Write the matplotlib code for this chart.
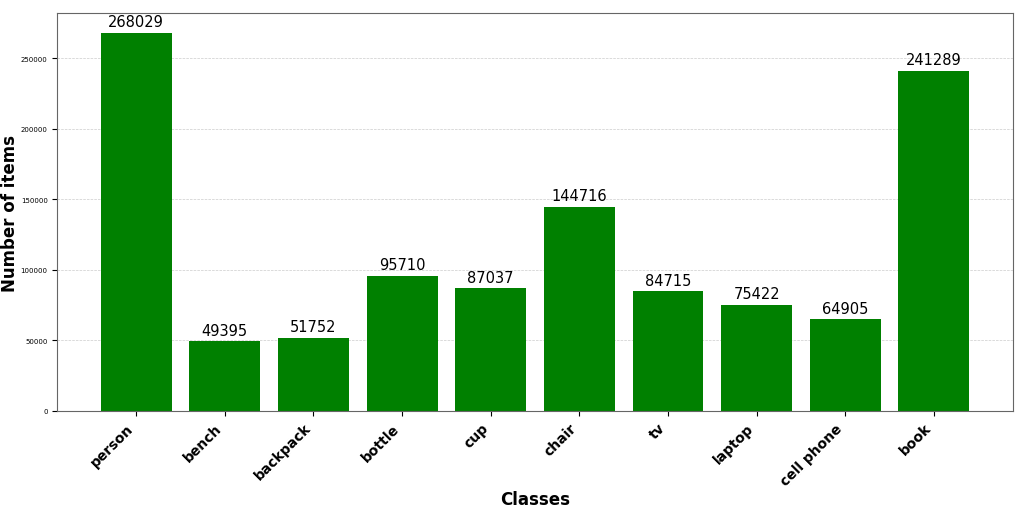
import matplotlib
matplotlib.use("Agg")
import matplotlib.pyplot as plt

classes = ["person", "bench", "backpack", "bottle", "cup", "chair", "tv", "laptop", "cell phone", "book"]
counts = [268029, 49395, 51752, 95710, 87037, 144716, 84715, 75422, 64905, 241289]

fig = plt.figure(figsize=(10.24, 5.06), dpi=100)
ax = fig.add_axes([0.056, 0.186, 0.933, 0.786])
bars = ax.bar(classes, counts, color="green", width=0.8, zorder=2)
for b, v in zip(bars, counts):
    ax.text(b.get_x() + b.get_width() / 2, v + 2500, str(v), ha="center", va="bottom", fontsize=10.5)
ax.set_ylim(0, 282000)
ax.yaxis.grid(True, linestyle="--", linewidth=0.5, color="#cccccc", zorder=0)
ax.tick_params(axis="y", labelsize=5)
for s in ax.spines.values():
    s.set_color("#666666")
plt.setp(ax.get_xticklabels(), rotation=45, ha="right", fontsize=10, fontweight="bold")
ax.set_xlabel("Classes", fontsize=12, fontweight="bold")
ax.xaxis.set_label_coords(0.5, -0.2)
ax.set_ylabel("Number of items", fontsize=12, fontweight="bold")
ax.yaxis.set_label_coords(-0.04, 0.5)
fig.savefig("out.png", dpi=100)
